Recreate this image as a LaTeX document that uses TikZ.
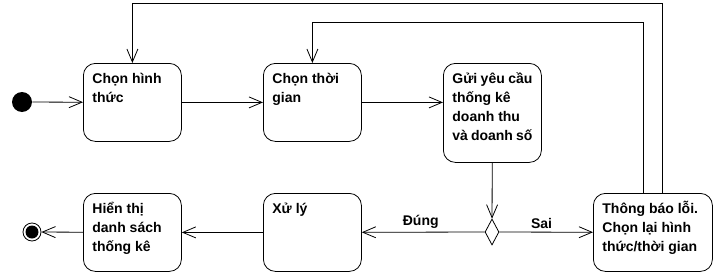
\documentclass[tikz,border=0pt]{standalone}
\usepackage{fontspec}
\setmainfont{Liberation Sans}
\usetikzlibrary{arrows.meta,shapes.geometric}

% text block of an action, top left aligned
\newcommand{\acttext}[3]{\parbox[t][#2][t]{#1}{\strut#3}}

\begin{document}
\begin{tikzpicture}[x=1pt, y=-1pt, line width=0.8pt,
    font=\bfseries\fontsize{14}{19}\selectfont,
    action/.style={draw, rounded corners=12pt, anchor=north west, inner xsep=9pt, inner ysep=7pt},
    flow/.style={-{Straight Barb[length=13pt, width=11pt]}}]
    \useasboundingbox (0,0) rectangle (716,276);

    % actions
    \node[action] (hinhthuc) at (83,63) {\acttext{80pt}{64pt}{Chọn hình\\thức}};
    \node[action] (thoigian) at (263,63) {\acttext{80pt}{64pt}{Chọn thời\\gian}};
    \node[action] (guiyeucau) at (443,63) {\acttext{80pt}{85pt}{Gửi yêu cầu\\thống kê\\doanh thu\\và doanh số}};
    \node[action] (hienthi) at (83,193) {\acttext{80pt}{64pt}{Hiển thị\\danh sách\\thống kê}};
    \node[action] (xuly) at (263,193) {\acttext{80pt}{64pt}{Xử lý}};
    \node[action] (thongbao) at (593,193) {\acttext{101pt}{64pt}{Thông báo lỗi.\\Chọn lại hình\\thức/thời gian}};

    % start, end and decision
    \node[circle, fill=black, inner sep=0pt, minimum size=20pt] (start) at (22,102) {};
    \node[circle, draw, inner sep=0pt, minimum size=18pt,
        path picture={\fill (path picture bounding box.center) circle (6.5pt);}] (stop) at (32,232) {};
    \node[diamond, draw, fill=white, inner sep=0pt, minimum width=14pt, minimum height=26pt] (choice) at (492,232) {};

    \draw[flow] (start) -- (hinhthuc);
    \draw[flow] (hinhthuc) -- (thoigian);
    \draw[flow] (thoigian.east) -- (thoigian.east -| guiyeucau.west);
    \draw[flow] (guiyeucau) -- (choice);
    \draw[flow] (choice) -- node[above, pos=0.52] {Đúng} (xuly);
    \draw[flow] (choice) -- node[above, pos=0.45] {Sai} (thongbao);
    \draw[flow] (xuly) -- (hienthi);
    \draw[flow] (hienthi) -- (stop);

    % back to the first two steps
    \draw[flow] ([xshift=9pt]thongbao.north) -- ++(0,-190) -| (hinhthuc.north);
    \draw[flow] ([xshift=-10pt]thongbao.north) -- ++(0,-171) -| (thoigian.north);
\end{tikzpicture}
\end{document}
